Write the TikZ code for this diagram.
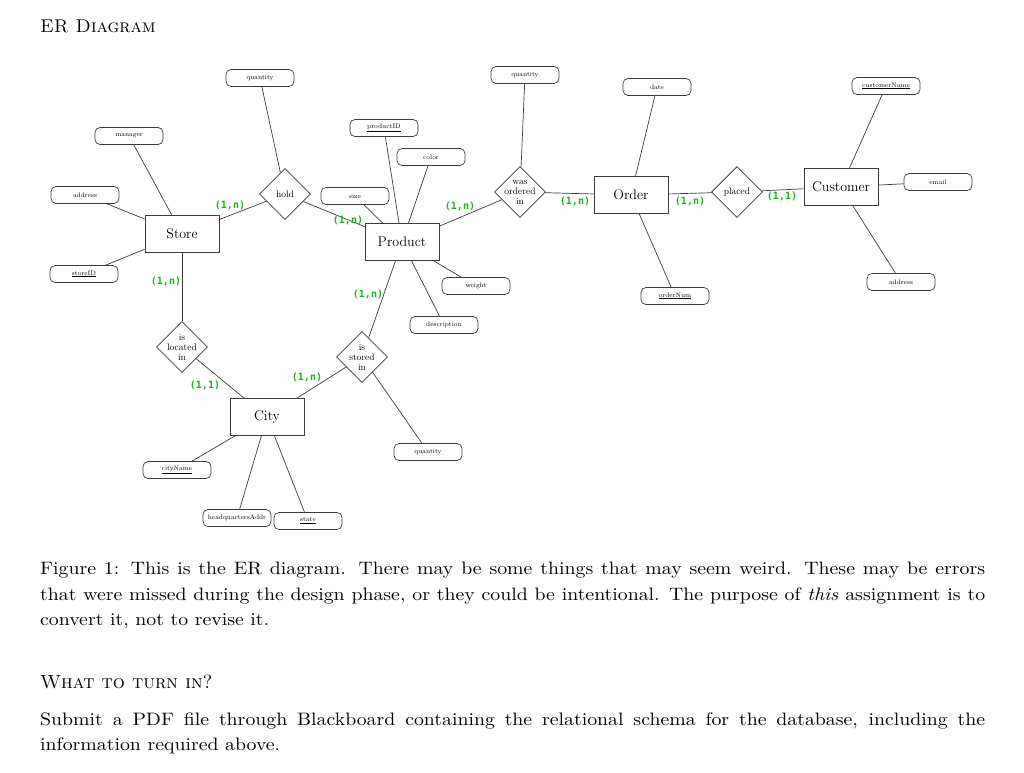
\documentclass[tikz,border=0pt]{standalone}
\usepackage{fontspec}
\newfontfamily\cardfont{DejaVu Sans Mono}
\newfontfamily\capfont{lmroman10-regular.otf}[FakeStretch=1.1, ItalicFont=lmroman10-italic.otf]
\usetikzlibrary{shapes.geometric}
\definecolor{cardc}{RGB}{30,175,30}
\definecolor{ln}{RGB}{60,60,60}
\begin{document}
\begin{tikzpicture}[x=1pt,y=-1pt,
 ent/.style={draw=ln, line width=0.8pt, minimum width=74pt, minimum height=37pt, inner sep=0pt, font=\fontsize{14}{16}\selectfont, fill=white},
 att/.style={draw=ln, line width=0.7pt, rounded corners=5pt, minimum width=68pt, minimum height=17pt, inner sep=0pt, font=\fontsize{6.5}{7}\selectfont, fill=white},
 rel/.style={draw=ln, line width=0.8pt, diamond, aspect=1, minimum width=51pt, minimum height=51pt, inner sep=0pt, fill=white},
 relt/.style={align=center, font=\fontsize{9.5}{10}\selectfont, inner sep=0pt},
 card/.style={text=cardc, font=\cardfont\bfseries\fontsize{10}{10}\selectfont, inner sep=0pt},
 conn/.style={draw=ln, line width=0.7pt},
 txt/.style={anchor=base west, inner sep=0pt},
 body/.style={txt, font=\capfont\fontsize{18}{26}\selectfont},
]
\useasboundingbox (0,0) rectangle (1024,772);

% headings and text
\node[txt, font=\fontsize{18.5}{24}\selectfont] (h1) at (40,32) {\textsc{ER Diagram}};
\node[body] (c1) at (40,574) {\makebox[945pt][s]{Figure 1: This is the ER diagram. There may be some things that may seem weird. These may be errors}};
\node[body] (c2) at (40,600) {\makebox[945pt][s]{that were missed during the design phase, or they could be intentional. The purpose of \emph{this} assignment is to}};
\node[body] (c3) at (40,625) {convert it, not to revise it.};
\node[txt, font=\fontsize{19}{24}\selectfont] (h2) at (40,688) {\textsc{What to turn in?}};
\node[body] (s1) at (40,725) {\makebox[945pt][s]{Submit a PDF file through Blackboard containing the relational schema for the database, including the}};
\node[body] (s2) at (40,750) {information required above.};

% entities
\node[ent] (store) at (182,234) {Store};
\node[ent] (product) at (402,242) {Product};
\node[ent] (order) at (631,195) {Order};
\node[ent] (customer) at (841,187) {Customer};
\node[ent] (city) at (267,417) {City};

% relationships
\node[rel, label={[relt]center:hold}] (hold) at (285,194) {};
\node[rel, label={[relt]center:was\\ordered\\in}] (ordered) at (520,192) {};
\node[rel, label={[relt]center:placed}] (placed) at (737,192) {};
\node[rel, label={[relt]center:is\\located\\in}] (located) at (182,347) {};
\node[rel, label={[relt]center:is\\stored\\in}] (stored) at (362,357) {};

% attributes
\node[att] (qhold) at (260,78) {quantity};
\node[att] (manager) at (129,136) {manager};
\node[att] (saddr) at (85,195) {address};
\node[att] (storeid) at (84,274) {\underline{storeID}};
\node[att] (size) at (355,196) {size};
\node[att] (prodid) at (384,128) {\underline{productID}};
\node[att] (color) at (431,157) {color};
\node[att] (qord) at (525,75) {quantity};
\node[att] (weight) at (476,286) {weight};
\node[att] (desc) at (444,325) {description};
\node[att] (date) at (657,87) {date};
\node[att] (onum) at (675,296) {\underline{orderNum}};
\node[att] (cname) at (886,86) {\underline{customerName}};
\node[att] (email) at (938,182) {email};
\node[att] (caddr) at (901,282) {address};
\node[att] (cityname) at (177,470) {\underline{cityName}};
\node[att] (hq) at (237,518) {headquartersAddr};
\node[att] (state) at (308,521) {\underline{state}};
\node[att] (qstore) at (428,452) {quantity};

% connectors
\draw[conn] (manager) -- (store);
\draw[conn] (saddr) -- (store);
\draw[conn] (storeid) -- (store);
\draw[conn] (store) -- (hold);
\draw[conn] (hold) -- (product);
\draw[conn] (qhold) -- (hold);
\draw[conn] (size) -- (product);
\draw[conn] (prodid) -- (product);
\draw[conn] (color) -- (product);
\draw[conn] (weight) -- (product);
\draw[conn] (desc) -- (product);
\draw[conn] (product) -- (ordered);
\draw[conn] (qord) -- (ordered);
\draw[conn] (ordered) -- (order);
\draw[conn] (date) -- (order);
\draw[conn] (onum) -- (order);
\draw[conn] (order) -- (placed);
\draw[conn] (placed) -- (customer);
\draw[conn] (cname) -- (customer);
\draw[conn] (email) -- (customer);
\draw[conn] (caddr) -- (customer);
\draw[conn] (store) -- (located);
\draw[conn] (located) -- (city);
\draw[conn] (product) -- (stored);
\draw[conn] (stored) -- (city);
\draw[conn] (stored) -- (qstore);
\draw[conn] (cityname) -- (city);
\draw[conn] (hq) -- (city);
\draw[conn] (state) -- (city);

% cardinalities
\node[card] (k1) at (230,205) {(1,n)};
\node[card] (k2) at (166,281) {(1,n)};
\node[card] (k3) at (348,220) {(1,n)};
\node[card] (k4) at (460,206) {(1,n)};
\node[card] (k5) at (575,201) {(1,n)};
\node[card] (k6) at (690,201) {(1,n)};
\node[card] (k7) at (782,196) {(1,1)};
\node[card] (k8) at (368,294) {(1,n)};
\node[card] (k9) at (205,385) {(1,1)};
\node[card] (k10) at (307,377) {(1,n)};
\end{tikzpicture}
\end{document}
